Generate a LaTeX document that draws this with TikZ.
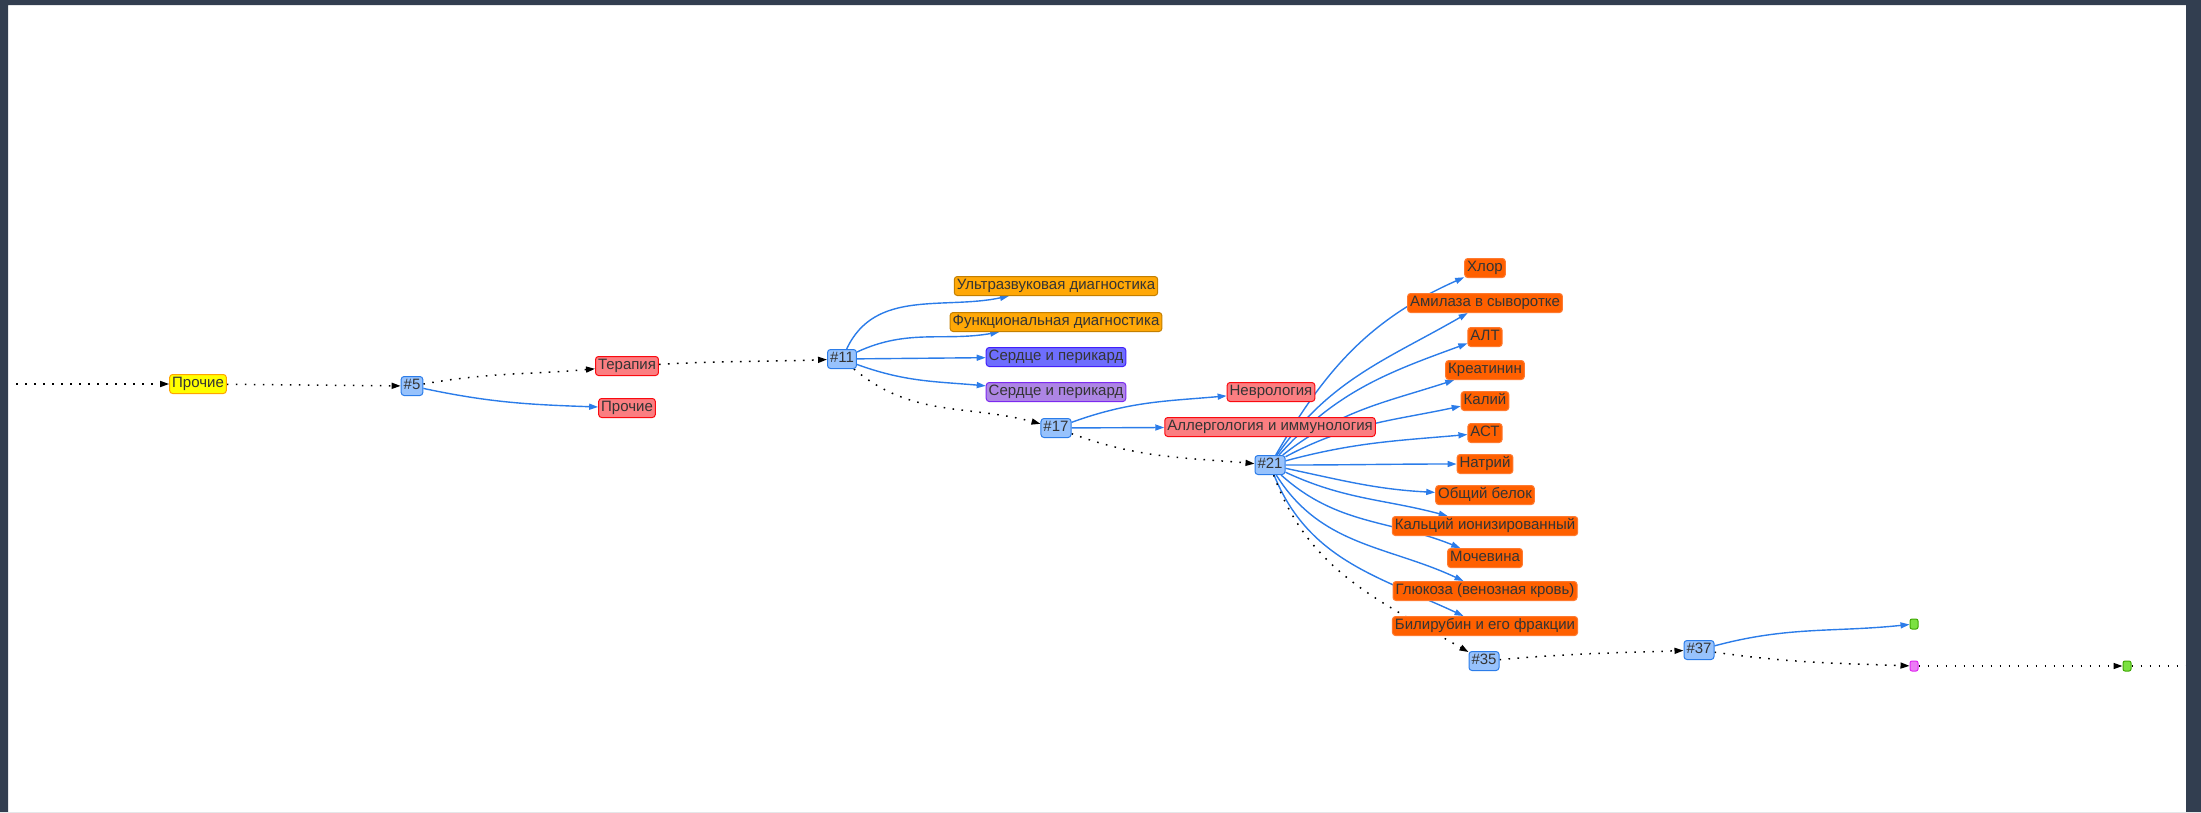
\documentclass[tikz,border=0pt]{standalone}
\usepackage{fontspec}
\setmainfont{Liberation Sans}
\usepackage{tikz}
\usetikzlibrary{arrows.meta, backgrounds}

\definecolor{frame}{RGB}{50,62,80}
\definecolor{txt}{HTML}{343434}
\definecolor{edgeblue}{HTML}{2B7CE9}
\definecolor{hubfill}{HTML}{97C2FC}
\definecolor{ylwfill}{HTML}{FFFF00}
\definecolor{ylwline}{HTML}{FFA500}
\definecolor{redfill}{HTML}{FB7E81}
\definecolor{redline}{HTML}{FA0A10}
\definecolor{amberfill}{HTML}{FFA807}
\definecolor{amberline}{HTML}{C37F00}
\definecolor{indigofill}{HTML}{6E6EFD}
\definecolor{indigoline}{HTML}{4220FB}
\definecolor{lilacfill}{HTML}{AD85E4}
\definecolor{lilacline}{HTML}{7C29F0}
\definecolor{testfill}{HTML}{FF6000}
\definecolor{testline}{HTML}{FF7A30}
\definecolor{grnfill}{HTML}{7BE141}
\definecolor{grnline}{HTML}{41A906}
\definecolor{magfill}{HTML}{EB7DF4}
\definecolor{magline}{HTML}{E129F0}

\begin{document}
\begin{tikzpicture}[x=1pt, y=1pt,
    box/.style={rectangle, rounded corners=3pt, draw, line width=1pt, text=txt,
      font=\fontsize{15}{17}\selectfont, inner xsep=2.5pt, inner ysep=2.25pt,
      text height=11pt, text depth=3.5pt},
    hub/.style={box, fill=hubfill, draw=edgeblue},
    redbox/.style={box, fill=redfill, draw=redline},
    amberbox/.style={box, fill=amberfill, draw=amberline},
    testbox/.style={box, fill=testfill, draw=testline},
    pin/.style={rectangle, rounded corners=2pt, draw, line width=1pt,
      minimum width=8pt, minimum height=10pt, inner sep=0pt},
    link/.style={-{Triangle[length=9pt,width=6pt]}, draw=edgeblue, line width=1.4pt},
    seq/.style={-{Triangle[length=9pt,width=6pt]}, black, line width=1.5pt,
      dash pattern=on 1.6pt off 7.4pt}]
\useasboundingbox (0,0) rectangle (2201,-812);

% Nodes
\node[box, fill=ylwfill, draw=ylwline] (other0) at (198,-384) {Прочие};
\node[hub] (n5) at (412,-386) {\#5};
\node[redbox] (therapy) at (627,-366) {Терапия};
\node[redbox] (other1) at (627,-408) {Прочие};
\node[hub] (n11) at (842,-359) {\#11};
\node[amberbox] (uzd) at (1056,-286) {Ультразвуковая диагностика};
\node[amberbox] (fd) at (1056,-322) {Функциональная диагностика};
\node[box, fill=indigofill, draw=indigoline] (heart1) at (1056,-357) {Сердце и перикард};
\node[box, fill=lilacfill, draw=lilacline] (heart2) at (1056,-392) {Сердце и перикард};
\node[hub] (n17) at (1056,-428) {\#17};
\node[redbox] (neuro) at (1271,-392) {Неврология};
\node[redbox] (allergo) at (1270,-427) {Аллергология и иммунология};
\node[hub] (n21) at (1270,-465) {\#21};
\foreach \n/\y/\t in {chlor/268/Хлор, amyl/303/Амилаза в сыворотке, alt/337/АЛТ,
    creat/370/Креатинин, kal/401/Калий, ast/433/АСТ, natr/464/Натрий,
    prot/495/Общий белок, calc/526/Кальций ионизированный, urea/558/Мочевина,
    gluc/591/Глюкоза (венозная кровь), bili/626/Билирубин и его фракции}
  \node[testbox] (\n) at (1485,-\y) {\t};
\node[hub] (n35) at (1484,-661) {\#35};
\node[hub] (n37) at (1699,-650) {\#37};
\node[pin, fill=grnfill, draw=grnline] (end1) at (1914,-624) {};
\node[pin, fill=magfill, draw=magline] (mid) at (1914,-666) {};
\node[pin, fill=grnfill, draw=grnline] (end2) at (2127,-666) {};
\coordinate (in0) at (16,-384);
\coordinate (out0) at (2195,-666);

% Arrows
\begin{pgfonlayer}{background}
\draw[seq] (in0) -- (other0);
\draw[seq] (other0) -- (n5);
\draw[seq] (n5) to[out=10,in=185] (therapy);
\draw[link] (n5) to[out=-12,in=178] (other1);
\draw[seq] (therapy) to[out=3,in=182] (n11);
\draw[link] (n11) to[out=65,in=192] (uzd);
\draw[link] (n11) to[out=25,in=190] (fd);
\draw[link] (n11) -- (heart1);
\draw[link] (n11) to[out=-20,in=175] (heart2);
\draw[seq] (n11) to[out=-40,in=165] (n17);
\draw[link] (n17) to[out=20,in=185] (neuro);
\draw[link] (n17) -- (allergo);
\draw[seq] (n17) to[out=-20,in=175] (n21);
\foreach \n/\o/\i in {chlor/60/204, amyl/55/210, alt/48/200, creat/38/198, kal/28/192,
    ast/15/185, natr/0/180, prot/-12/177, calc/-25/165, urea/-42/158, gluc/-58/155, bili/-68/155}
  \draw[link] (n21) to[out=\o,in=\i] (\n);
\draw[seq] (n21) to[out=-70,in=150] (n35);
\draw[seq] (n35) to[out=5,in=182] (n37);
\draw[link] (n37) to[out=15,in=186] (end1);
\draw[seq] (n37) to[out=-8,in=178] (mid);
\draw[seq] (mid) -- (end2);
\draw[seq, -] (end2) -- (out0);
\end{pgfonlayer}

% Frame
\fill[frame, even odd rule] (0,0) rectangle (2201,-812) (8,-5) rectangle (2186,-812);
\end{tikzpicture}
\end{document}
